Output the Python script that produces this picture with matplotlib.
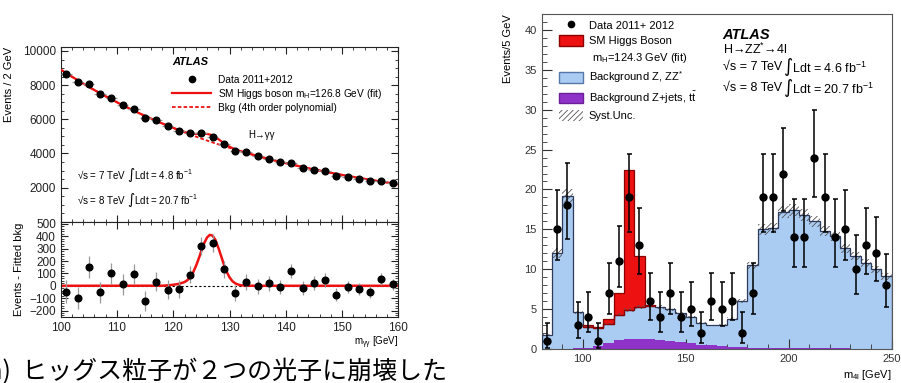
import numpy as np
import matplotlib.pyplot as plt
from matplotlib.lines import Line2D
from matplotlib.patches import Patch
from matplotlib.ticker import MultipleLocator

plt.rcParams['font.family'] = ['Liberation Sans', 'DejaVu Sans']
plt.rcParams['mathtext.default'] = 'regular'
plt.rcParams['hatch.linewidth'] = 0.6

# ---- left: H -> gamma gamma ----
mgg = np.arange(101, 160, 2)
events_gg = [8650, 8180, 8045, 7460, 7265, 6835, 6600, 6095, 5940, 5590,
             5315, 5200, 5200, 4985, 4555, 4145, 4070, 3835, 3660, 3485,
             3465, 3150, 3055, 2955, 2705, 2625, 2510, 2370, 2370, 2255]
resid_gg = [-48, -101, 155, -53, 101, 11, 96, -123, 32, -32,
            -24, 91, 323, 347, 133, -59, 29, -5, 19, -11,
            120, -21, 21, 45, -72, -11, -27, -51, 53, 11]
# background fit
bkg_x = [100, 105, 110, 115, 120, 125, 130, 135, 140, 145, 150, 155, 160]
bkg_y = [8910, 7900, 6995, 6195, 5490, 4870, 4325, 3850, 3435, 3070, 2740, 2455, 2200]
# signal shape
sig_x = [118, 119, 120, 121, 122, 122.5, 123, 123.5, 124, 124.5, 125, 125.5, 126,
         126.5, 127, 127.5, 128, 128.5, 129, 129.5, 130, 130.5, 131, 131.5, 132, 133, 134]
sig_y = [0, 3, 8, 15, 30, 45, 68, 105, 155, 215, 285, 345, 390,
         412, 405, 370, 310, 240, 170, 112, 68, 38, 20, 10, 4, 1, 0]

# ---- right: H -> ZZ* -> 4l ----
edges_4l = np.arange(80, 251, 5)
data_4l = [1, 15, 18, 3, 4, 1, 7, 11, 19, 13, 6, 4, 7, 4, 5, 2, 6,
           5, 6, 2, 7, 19, 19, 22, 14, 14, 24, 19, 14, 15, 10, 13, 12, 8]
data_lo = [0.17, 11.15, 13.77, 1.37, 2.09, 0.17, 4.42, 7.73, 14.65, 9.43, 3.62, 2.09, 4.42, 2.09, 2.84, 0.71, 3.62,
           2.84, 3.62, 0.71, 4.42, 14.65, 14.65, 17.30, 10.28, 10.28, 19.08, 14.65, 10.28, 11.15, 6.89, 9.43, 8.58, 5.23]
data_hi = [3.30, 19.96, 23.31, 5.92, 7.16, 3.30, 10.77, 15.42, 24.42, 17.70, 9.58, 7.16, 10.77, 7.16, 8.38, 4.64, 9.58,
           8.38, 9.58, 4.64, 10.77, 24.42, 24.42, 27.73, 18.83, 18.83, 29.93, 24.42, 18.83, 19.96, 14.27, 17.70, 16.56, 11.95]
bkg_tot = [1.8, 12.0, 19.2, 4.6, 2.8, 2.6, 3.1, 4.3, 4.9, 5.25, 5.45, 5.25, 5.0, 4.5, 4.0, 3.3, 2.95,
           3.0, 3.8, 6.0, 10.5, 15.0, 15.2, 17.2, 17.4, 16.8, 16.0, 14.8, 14.2, 12.6, 11.6, 10.8, 10.0, 9.1]
zjets = [0.05, 0.05, 0.06, 0.08, 0.15, 0.35, 0.8, 1.15, 1.3, 1.3, 1.25, 1.15, 1.0, 0.85, 0.7, 0.55, 0.45,
         0.35, 0.28, 0.22, 0.18, 0.15, 0.13, 0.12, 0.1, 0.09, 0.08, 0.08, 0.07, 0.07, 0.06, 0.06, 0.05, 0.05]
higgs = [0, 0, 0, 0, 0.15, 0.15, 0.6, 2.7, 17.6, 6.35, 0.1, 0, 0, 0, 0, 0, 0,
         0, 0, 0, 0, 0, 0, 0, 0, 0, 0, 0, 0, 0, 0, 0, 0, 0]
syst = [0.1, 0.6, 0.8, 0.2, 0.12, 0.12, 0.13, 0.18, 0.2, 0.22, 0.22, 0.22, 0.2, 0.19, 0.17, 0.14, 0.12,
        0.13, 0.16, 0.25, 0.45, 0.65, 0.65, 0.75, 0.75, 0.72, 0.68, 0.63, 0.6, 0.55, 0.5, 0.46, 0.43, 0.4]

RED = '#ee1111'
BLUE = '#aacbf2'
PURPLE = '#8f32c8'

fig = plt.figure(figsize=(9.01, 3.83), dpi=100)
ax_top = fig.add_axes([0.0674, 0.421, 0.3747, 0.457])
ax_bot = fig.add_axes([0.0674, 0.1715, 0.3747, 0.2496])
ax_r = fig.add_axes([0.6012, 0.0888, 0.3883, 0.8747])

# upper left panel
xx = np.linspace(100, 160, 601)
poly = np.polyval(np.polyfit(bkg_x, bkg_y, 4), xx)
sig = np.interp(xx, sig_x, sig_y, left=0, right=0)
ax_top.plot(xx, poly, color=RED, ls=(0, (2, 1.2)), lw=1.3, zorder=2)
ax_top.plot(xx, poly + sig, color=RED, lw=1.6, zorder=3)
ax_top.errorbar(mgg, events_gg, xerr=1, yerr=np.sqrt(events_gg), fmt='o', color='k',
                ecolor='#999999', ms=4.8, elinewidth=0.9, zorder=5)
ax_top.set_xlim(100, 160)
ax_top.set_ylim(1, 10250)
ax_top.yaxis.set_major_locator(MultipleLocator(2000))
ax_top.yaxis.set_minor_locator(MultipleLocator(500))
ax_top.xaxis.set_major_locator(MultipleLocator(10))
ax_top.xaxis.set_minor_locator(MultipleLocator(2))
ax_top.tick_params(labelbottom=False)
ax_top.set_ylabel('Events / 2 GeV', fontsize=8, loc='top', labelpad=6)

ax_top.text(0.33, 0.913, 'ATLAS', transform=ax_top.transAxes, fontsize=8,
            fontweight='bold', fontstyle='italic', va='center')
ax_top.text(0.555, 0.495, 'H→γγ', transform=ax_top.transAxes, fontsize=7, va='center')
ax_top.text(0.048, 0.267, '√s = 7 TeV $\\int$Ldt = 4.8 fb$^{-1}$', transform=ax_top.transAxes,
            fontsize=7, va='center')
ax_top.text(0.048, 0.123, '√s = 8 TeV $\\int$Ldt = 20.7 fb$^{-1}$', transform=ax_top.transAxes,
            fontsize=7, va='center')
h_gg = [Line2D([], [], marker='o', color='k', ls='none', ms=4.5),
        Line2D([], [], color=RED, lw=1.6),
        Line2D([], [], color=RED, lw=1.3, ls=(0, (2, 1.2)))]
ax_top.legend(h_gg, ['Data 2011+2012', 'SM Higgs boson m$_H$=126.8 GeV (fit)',
                     'Bkg (4th order polynomial)'],
              loc='upper left', bbox_to_anchor=(0.33, 0.84), frameon=False, fontsize=7.3,
              handlelength=3.85, handletextpad=0.7, labelspacing=0.2, borderpad=0, borderaxespad=0)

# lower left panel
ax_bot.axhline(0, color='k', ls=(0, (2, 2)), lw=0.8, zorder=1)
ax_bot.plot(xx, sig, color=RED, lw=1.8, zorder=2)
ax_bot.errorbar(mgg, resid_gg, yerr=np.sqrt(events_gg), fmt='o', color='k',
                ecolor='#999999', ms=4.8, elinewidth=0.9, zorder=5)
ax_bot.set_xlim(100, 160)
ax_bot.set_ylim(-255, 518)
ax_bot.yaxis.set_major_locator(MultipleLocator(100))
ax_bot.yaxis.set_minor_locator(MultipleLocator(20))
ax_bot.xaxis.set_major_locator(MultipleLocator(10))
ax_bot.xaxis.set_minor_locator(MultipleLocator(2))
ax_bot.set_ylabel('Events - Fitted bkg', fontsize=8, labelpad=4)
ax_bot.set_xlabel('m$_{\\gamma\\gamma}$ [GeV]', fontsize=7, loc='right', labelpad=0)

for ax in (ax_top, ax_bot):
    ax.tick_params(which='both', direction='in', top=True, right=True, labelsize=8.5,
                   colors='#222222')
    ax.tick_params(which='major', length=5)
    ax.tick_params(which='minor', length=2.5)
    for s in ax.spines.values():
        s.set_color('#222222')

# right panel: stacked histogram
centers = edges_4l[:-1] + 2.5
bkg_arr = np.array(bkg_tot)
top_sig = bkg_arr + np.array(higgs)
ax_r.stairs(bkg_tot, edges_4l, fill=True, color=BLUE, zorder=1)
ax_r.stairs(top_sig, edges_4l, baseline=bkg_arr, fill=True, color=RED, zorder=1)
ax_r.stairs(zjets, edges_4l, fill=True, color=PURPLE, zorder=2)
ax_r.bar(centers, 2 * np.array(syst), bottom=bkg_arr - np.array(syst), width=5, fill=False,
         hatch='//////', edgecolor='#555555', linewidth=0, zorder=3)
ax_r.stairs(bkg_tot, edges_4l, color='#2f3b5a', lw=0.9, zorder=4)
ax_r.stairs(top_sig[4:11], edges_4l[4:12], baseline=bkg_arr[4:11], color='#8b0000', lw=0.9, zorder=4)
d = np.array(data_4l)
ax_r.errorbar(centers, d, yerr=[d - np.array(data_lo), np.array(data_hi) - d], fmt='o', color='k',
              ms=5, elinewidth=1.1, capsize=1.8, capthick=1.1, zorder=6)
ax_r.set_xlim(80, 250)
ax_r.set_ylim(0, 42)
ax_r.xaxis.set_major_locator(MultipleLocator(50))
ax_r.xaxis.set_minor_locator(MultipleLocator(10))
ax_r.yaxis.set_major_locator(MultipleLocator(5))
ax_r.yaxis.set_minor_locator(MultipleLocator(1))
ax_r.tick_params(which='both', direction='in', labelsize=8, colors='#333333')
ax_r.tick_params(which='major', length=7)
ax_r.tick_params(which='minor', length=3.5)
for s in ax_r.spines.values():
    s.set_color('#555555')
ax_r.set_ylabel('Events/5 GeV', fontsize=8, loc='top', labelpad=8)
ax_r.set_xlabel('m$_{4l}$ [GeV]', fontsize=8, loc='right', labelpad=3)

ax_r.text(0.517, 0.937, 'ATLAS', transform=ax_r.transAxes, fontsize=10.5,
          fontweight='bold', fontstyle='italic', va='center')
ax_r.text(0.517, 0.893, 'H→ZZ$^{*}$→4l', transform=ax_r.transAxes, fontsize=9, va='center')
ax_r.text(0.517, 0.841, '√s = 7 TeV', transform=ax_r.transAxes, fontsize=9, va='center')
ax_r.text(0.69, 0.841, '∫Ldt = 4.6 fb$^{-1}$', transform=ax_r.transAxes, fontsize=9, va='center')
ax_r.text(0.517, 0.780, '√s = 8 TeV', transform=ax_r.transAxes, fontsize=9, va='center')
ax_r.text(0.69, 0.780, '∫Ldt = 20.7 fb$^{-1}$', transform=ax_r.transAxes, fontsize=9, va='center')

h_4l = [Line2D([], [], marker='o', color='k', ls='none', ms=4.5),
        Patch(fc=RED, ec='#8b0000'),
        Patch(fc='none', ec='none'),
        Patch(fc=BLUE, ec='#5577aa'),
        Patch(fc=PURPLE, ec='#6a1f99'),
        Patch(fc='none', ec='#555555', hatch='//////', lw=0)]
ax_r.legend(h_4l, ['Data 2011+ 2012', 'SM Higgs Boson', ' m$_H$=124.3 GeV (fit)',
                   'Background Z, ZZ$^{*}$', 'Background Z+jets, t$\\bar{t}$', 'Syst.Unc.'],
            loc='upper left', bbox_to_anchor=(0.049, 0.983), frameon=False, fontsize=8,
            handlelength=2.2, handleheight=1.1, handletextpad=0.5, labelspacing=0.4,
            borderpad=0, borderaxespad=0)

fig.text(-20 / 901, 0.011, '(a)  ヒッグス粒子が２つの光子に崩壊した', fontsize=18,
         family=['Noto Sans CJK JP', 'DejaVu Sans'], va='baseline', ha='left')

fig.savefig('out.png', dpi=100)
